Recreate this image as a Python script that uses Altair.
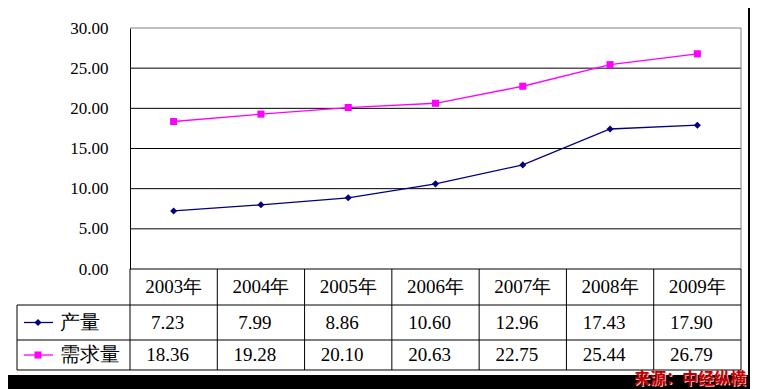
import altair as alt
import pandas as pd

years = ["2003年", "2004年", "2005年", "2006年", "2007年", "2008年", "2009年"]
series = ["产量", "需求量"]
production = [7.23, 7.99, 8.86, 10.60, 12.96, 17.43, 17.90]
demand = [18.36, 19.28, 20.10, 20.63, 22.75, 25.44, 26.79]
y_ticks = [0, 5, 10, 15, 20, 25, 30]
source_note = "来源：中经纵横"

W, H = 611, 241
SERIF = "Liberation Serif"
COLORS = ["#000080", "#FF00FF"]
SHAPES = ["diamond", "square"]

rows = []
for i, y in enumerate(years):
    rows.append({"i": i, "year": y, "series": series[0], "value": production[i], "r": 1.5})
    rows.append({"i": i, "year": y, "series": series[1], "value": demand[i], "r": 2.5})
df = pd.DataFrame(rows)
df["label"] = df["value"].map(lambda v: f"{v:.2f}")

hdr = pd.DataFrame({"i": list(range(len(years))), "year": years, "r": [0.5] * len(years)})
bounds = pd.DataFrame({"b": [k - 0.5 for k in range(len(years) + 1)]})
legend_df = pd.DataFrame({"series": series, "r": [1.5, 2.5]})
grid_df = pd.DataFrame({"v": y_ticks[1:-1]})

xs = alt.Scale(domain=[-0.5, 6.5], nice=False, zero=False)
ys = alt.Scale(domain=[0, 30], nice=False)
color_scale = alt.Scale(domain=series, range=COLORS)
shape_scale = alt.Scale(domain=series, range=SHAPES)
row_scale = alt.Scale(domain=[0, 1, 2, 3], range=[H, H + 36, H + 71, H + 101], nice=False, zero=False)

grid = alt.Chart(grid_df).mark_rule(color="black", strokeWidth=1).encode(
    y=alt.Y("v:Q", scale=ys, axis=None),
    x=alt.value(0), x2=alt.value(W),
)

base = alt.Chart(df)
lines = base.mark_line(strokeWidth=1.3).encode(
    x=alt.X("i:Q", scale=xs, axis=None),
    y=alt.Y("value:Q", scale=ys,
            axis=alt.Axis(values=y_ticks, format=".2f", grid=False, ticks=False,
                          domainColor="black", labelFont=SERIF, labelFontSize=17,
                          labelColor="black", labelPadding=22, title=None)),
    color=alt.Color("series:N", scale=color_scale, legend=None),
)
points = base.mark_point(filled=True, opacity=1).encode(
    x=alt.X("i:Q", scale=xs, axis=None),
    y=alt.Y("value:Q", scale=ys, axis=None),
    color=alt.Color("series:N", scale=color_scale, legend=None),
    shape=alt.Shape("series:N", scale=shape_scale, legend=None),
    size=alt.value(50),
)

h_lines = alt.Chart(pd.DataFrame({"r": [0]})).mark_rule(color="black").encode(
    y=alt.Y("r:Q", scale=row_scale, axis=None), x=alt.value(0), x2=alt.value(W))
h_lines2 = alt.Chart(pd.DataFrame({"r": [1, 2, 3]})).mark_rule(color="black").encode(
    y=alt.Y("r:Q", scale=row_scale, axis=None), x=alt.value(-113), x2=alt.value(W))
v_lines = alt.Chart(bounds).mark_rule(color="black").encode(
    x=alt.X("b:Q", scale=xs, axis=None),
    y=alt.value(H), y2=alt.value(H + 101))
left_edge = alt.Chart(pd.DataFrame({"r": [1], "r2": [3]})).mark_rule(color="black").encode(
    y=alt.Y("r:Q", scale=row_scale, axis=None), y2="r2:Q", x=alt.value(-113))
right_edge_gray = alt.Chart(pd.DataFrame({"v": [0], "v2": [30]})).mark_rule(color="#808080").encode(
    y=alt.Y("v:Q", scale=ys, axis=None), y2="v2:Q", x=alt.value(W))
top_gray = alt.Chart(pd.DataFrame({"v": [30]})).mark_rule(color="#808080").encode(
    y=alt.Y("v:Q", scale=ys, axis=None), x=alt.value(0), x2=alt.value(W))

hdr_text = alt.Chart(hdr).mark_text(font=SERIF, fontSize=19, color="black", baseline="middle").encode(
    x=alt.X("i:Q", scale=xs, axis=None),
    y=alt.Y("r:Q", scale=row_scale, axis=None),
    text="year:N",
)
val_text = base.mark_text(font=SERIF, fontSize=19, color="black", baseline="middle", dx=-6).encode(
    x=alt.X("i:Q", scale=xs, axis=None),
    y=alt.Y("r:Q", scale=row_scale, axis=None),
    text="label:N",
)

key_line = alt.Chart(legend_df).mark_rule(strokeWidth=1.3).encode(
    y=alt.Y("r:Q", scale=row_scale, axis=None),
    x=alt.value(-106), x2=alt.value(-77),
    color=alt.Color("series:N", scale=color_scale, legend=None),
)
key_pt = alt.Chart(legend_df).mark_point(filled=True, opacity=1).encode(
    y=alt.Y("r:Q", scale=row_scale, axis=None),
    x=alt.value(-92),
    color=alt.Color("series:N", scale=color_scale, legend=None),
    shape=alt.Shape("series:N", scale=shape_scale, legend=None),
    size=alt.value(50),
)
key_text = alt.Chart(legend_df).mark_text(font=SERIF, fontSize=20, color="black",
                                           baseline="middle", align="left").encode(
    y=alt.Y("r:Q", scale=row_scale, axis=None),
    x=alt.value(-70),
    text="series:N",
)

frame_r = alt.Chart(pd.DataFrame({"a": [0]})).mark_rect(color="black").encode(
    x=alt.value(618), x2=alt.value(640), y=alt.value(-40), y2=alt.value(400))
frame_b = alt.Chart(pd.DataFrame({"a": [0]})).mark_rect(color="black").encode(
    x=alt.value(-140), x2=alt.value(640), y=alt.value(347), y2=alt.value(400))

note_df = pd.DataFrame({"t": [source_note]})
note_shadow = alt.Chart(note_df).mark_text(font="Noto Sans CJK SC", fontWeight="bold", fontSize=16,
                                            color="#F4B0B0", align="right", baseline="alphabetic").encode(
    x=alt.value(617), y=alt.value(357), text="t:N")
note = alt.Chart(note_df).mark_text(font="Noto Sans CJK SC", fontWeight="bold", fontSize=16,
                                     color="#C00000", align="right", baseline="alphabetic").encode(
    x=alt.value(616), y=alt.value(356), text="t:N")

chart = alt.layer(
    grid, top_gray, right_edge_gray, lines, points,
    h_lines, h_lines2, v_lines, left_edge,
    hdr_text, val_text, key_line, key_pt, key_text,
    frame_r, frame_b, note_shadow, note,
).resolve_scale(y="independent").properties(
    width=W, height=H,
    autosize=alt.AutoSizeParams(type="none"),
    padding={"left": 122, "top": 20, "right": 9, "bottom": 120},
    background="white",
).configure_view(stroke=None)

chart.save("out.html", embed_options={"renderer": "svg", "actions": False})
